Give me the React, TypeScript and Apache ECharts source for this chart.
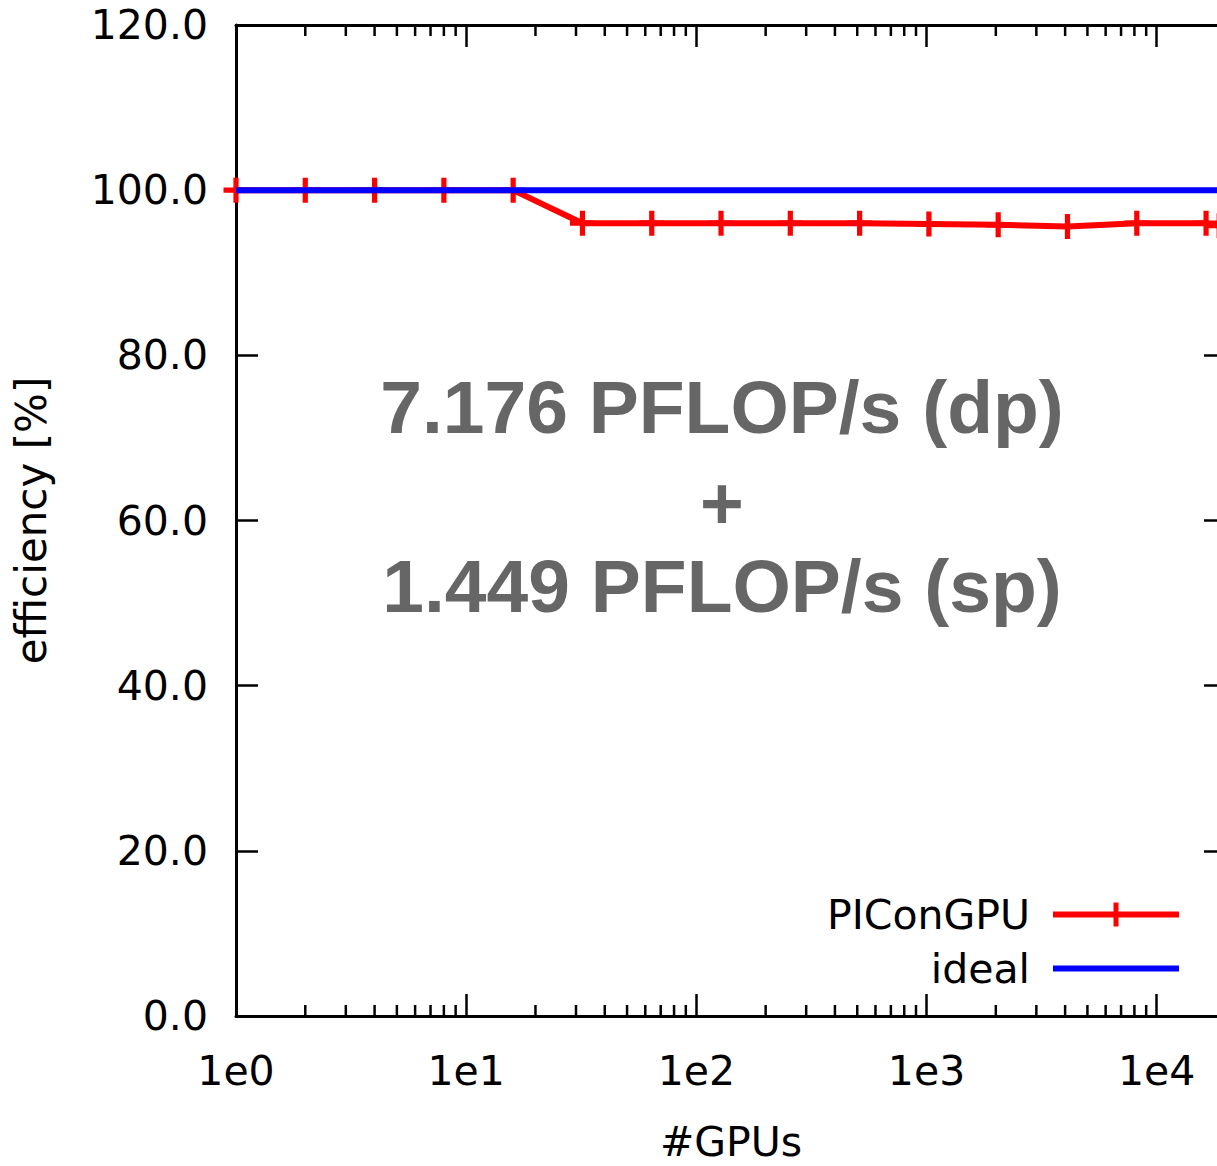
import React, { useEffect, useRef } from "react";
import * as echarts from "echarts";

const gpus = [1, 2, 4, 8, 16, 32, 64, 128, 256, 512, 1024, 2048, 4096, 8192, 16384, 18688];
const efficiency = [100, 100, 100, 100, 100, 96.0, 96.0, 96.0, 96.0, 96.0, 95.9, 95.8, 95.6, 96.0, 96.0, 95.7];
const idealEff = [100, 100, 100, 100, 100, 100, 100, 100, 100, 100, 100, 100, 100, 100, 100, 100];
const seriesNames = ["PIConGPU", "ideal"];
const xMin = 1;
const xMax = 20000;
const yTicks = [0, 20, 40, 60, 80, 100, 120];
const minorMultipliers = [2, 3, 4, 5, 6, 7, 8, 9];
const decades = [1, 10, 100, 1000, 10000];
const annotationLines = ["7.176 PFLOP/s (dp)", "+", "1.449 PFLOP/s (sp)"];
const xName = "#GPUs";
const yName = "efficiency [%]";

const FONT = "DejaVu Sans";
const PLUS = "path://M9.5,0H14.5V9.5H24V14.5H14.5V24H9.5V14.5H0V9.5H9.5Z";

export default function App() {
  const ref = useRef<HTMLDivElement>(null);
  useEffect(() => {
    document.body.style.margin = "0";
    if (!ref.current) return;
    const chart = echarts.init(ref.current, null, { renderer: "svg" });

    const minorTicks: number[][] = [];
    decades.forEach((d) =>
      minorMultipliers.forEach((m) => {
        const v = d * m;
        if (v <= xMax) minorTicks.push([v, 0]);
      })
    );

    const axisLine = { show: true, onZero: false, lineStyle: { color: "#000", width: 3 } };
    const tick = { show: true, inside: true, length: 22, lineStyle: { color: "#000", width: 2.5 } };
    const xFormatter = (v: number) => {
      const l = Math.log10(v);
      return Math.abs(l - Math.round(l)) < 1e-6 ? "1e" + Math.round(l) : "";
    };

    const option: any = {
      animation: false,
      backgroundColor: "#fff",
      grid: { left: 236, right: -9, top: 25, bottom: 150, containLabel: false, outerBoundsMode: "none" },
      xAxis: [
        {
          type: "log",
          logBase: 10,
          min: xMin,
          max: xMax,
          position: "bottom",
          axisLine,
          axisTick: tick,
          splitLine: { show: false },
          axisLabel: { formatter: xFormatter, fontFamily: FONT, fontSize: 41, color: "#000", margin: 34, showMaxLabel: false },
          name: xName,
          nameLocation: "middle",
          nameGap: 106,
          nameMoveOverlap: false,
          nameTextStyle: { fontFamily: FONT, fontSize: 41, color: "#000", lineHeight: 40 },
        },
        {
          type: "log",
          logBase: 10,
          min: xMin,
          max: xMax,
          position: "top",
          axisLine,
          axisTick: tick,
          splitLine: { show: false },
          axisLabel: { show: false },
        },
      ],
      yAxis: [
        {
          type: "value",
          min: yTicks[0],
          max: yTicks[yTicks.length - 1],
          interval: 20,
          position: "left",
          axisLine,
          axisTick: tick,
          splitLine: { show: false },
          axisLabel: { formatter: (v: number) => v.toFixed(1), fontFamily: FONT, fontSize: 41, color: "#000", margin: 28 },
          name: yName,
          nameLocation: "middle",
          nameGap: 184,
          nameMoveOverlap: false,
          nameTextStyle: { fontFamily: FONT, fontSize: 42, color: "#000" },
        },
        {
          type: "value",
          min: yTicks[0],
          max: yTicks[yTicks.length - 1],
          interval: 20,
          position: "right",
          axisLine,
          axisTick: tick,
          splitLine: { show: false },
          axisLabel: { show: false },
        },
      ],
      legend: {
        data: [{ name: seriesNames[0] }, { name: seriesNames[1], itemStyle: { opacity: 0 } }],
        orient: "vertical",
        right: 35,
        top: 894,
        align: "right",
        padding: 0,
        itemWidth: 126,
        itemHeight: 30,
        itemGap: 13,
        lineStyle: { width: 6 },
        textStyle: { fontFamily: FONT, fontSize: 41, color: "#000", padding: [0, 18, 0, 0] },
      },
      graphic: annotationLines.map((t, i) => ({
        type: "text",
        x: 722,
        y: [407, 503, 586][i],
        style: {
          text: t,
          fontFamily: "Liberation Sans",
          fontWeight: "bold",
          fontSize: 75,
          fill: "#666666",
          textAlign: "center",
          textVerticalAlign: "middle",
        },
        z: 10,
      })),
      series: [
        {
          name: seriesNames[0],
          type: "line",
          data: gpus.map((g, i) => [g, efficiency[i]]),
          symbol: PLUS,
          symbolSize: 25,
          showSymbol: true,
          itemStyle: { color: "#ff0000" },
          lineStyle: { color: "#ff0000", width: 6 },
          clip: false,
          z: 3,
        },
        {
          name: seriesNames[1],
          type: "line",
          data: gpus.map((g, i) => [g, idealEff[i]]),
          symbol: "none",
          itemStyle: { color: "#0000ff" },
          lineStyle: { color: "#0000ff", width: 6 },
          z: 4,
        },
        {
          name: "minorTicks",
          type: "custom",
          data: minorTicks,
          encode: { x: 0, y: 1 },
          silent: true,
          clip: false,
          z: 5,
          renderItem: (params: any, api: any) => {
            const v = api.value(0);
            const pb = api.coord([v, yTicks[0]]);
            const pt = api.coord([v, yTicks[yTicks.length - 1]]);
            const st = { stroke: "#000", lineWidth: 2.5 };
            return {
              type: "group",
              children: [
                { type: "line", shape: { x1: pb[0], y1: pb[1], x2: pb[0], y2: pb[1] - 11 }, style: st },
                { type: "line", shape: { x1: pt[0], y1: pt[1], x2: pt[0], y2: pt[1] + 11 }, style: st },
              ],
            };
          },
        },
      ],
    };
    chart.setOption(option);
    return () => chart.dispose();
  }, []);
  return <div ref={ref} style={{ width: 1217, height: 1166 }} />;
}
